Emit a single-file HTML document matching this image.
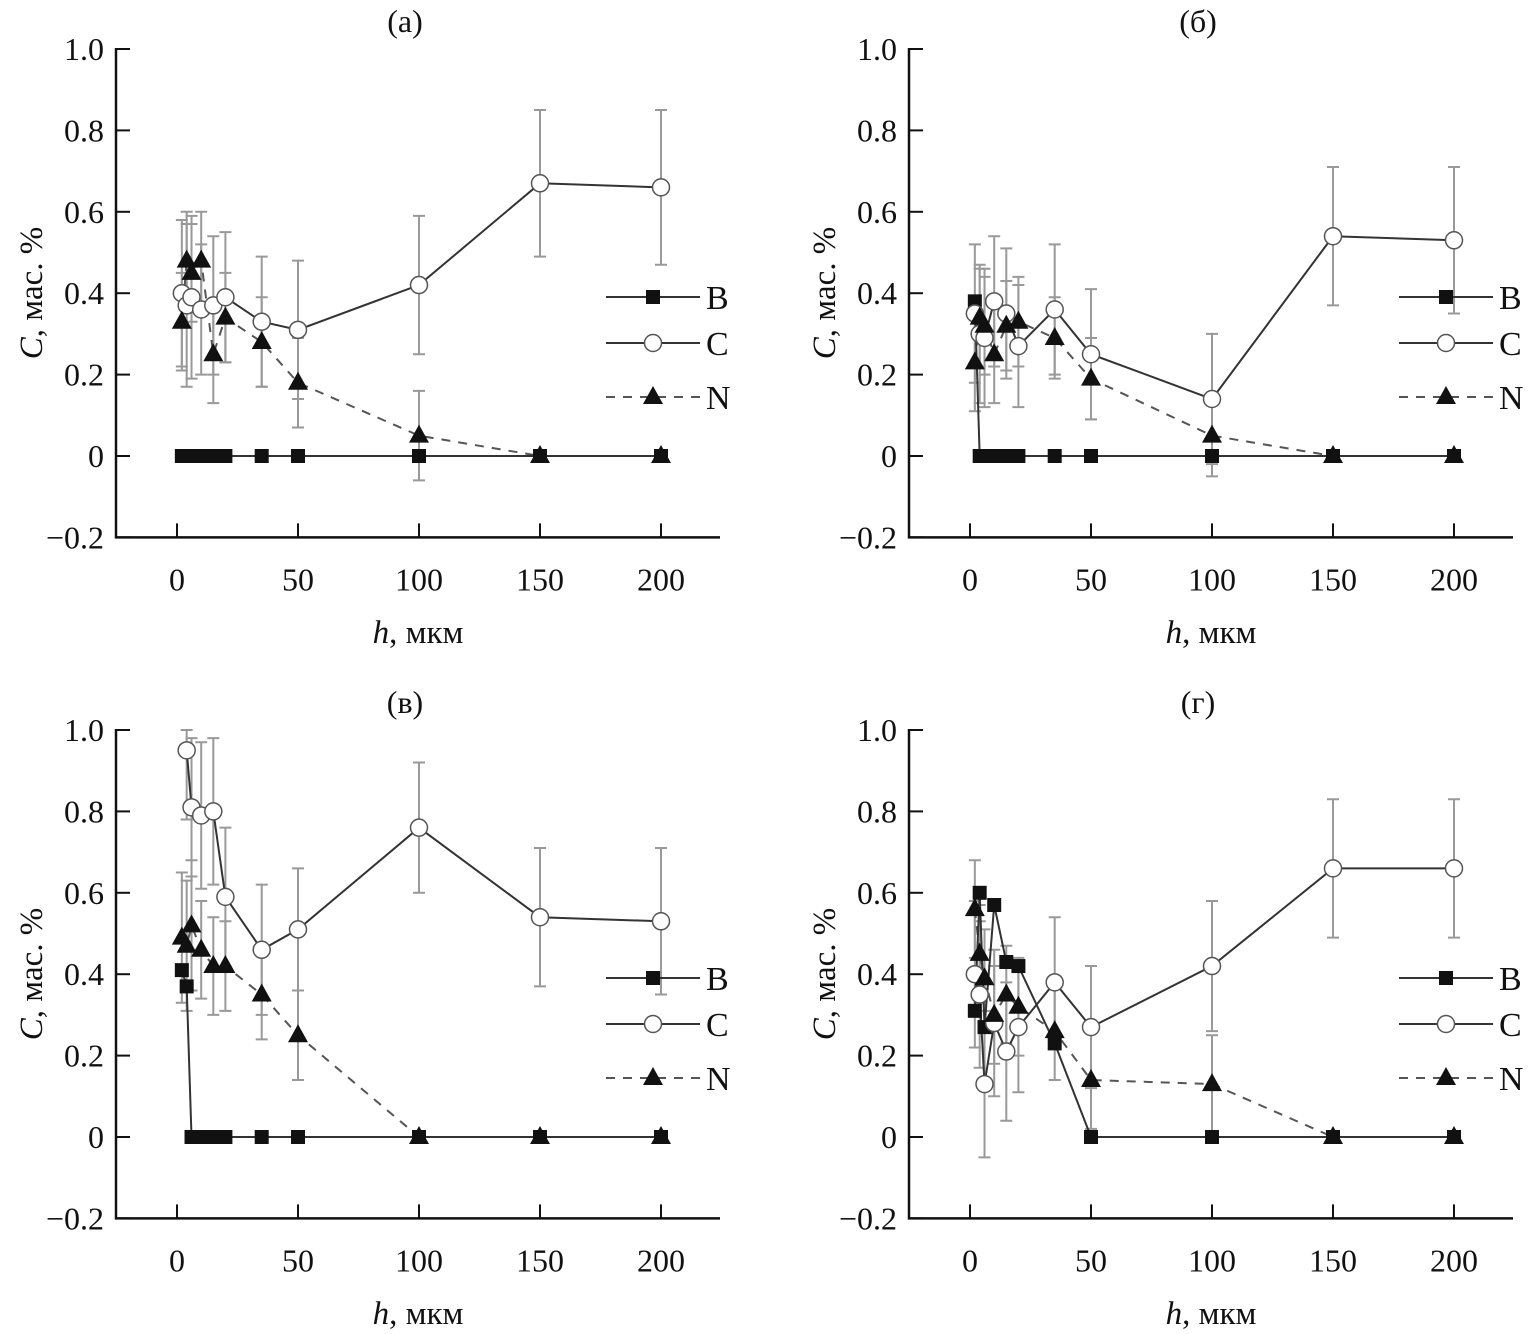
<!DOCTYPE html>
<html><head><meta charset="utf-8">
<style>
html,body{margin:0;padding:0;background:#fff;}
svg{display:block;}
text{font-family:"Liberation Serif","DejaVu Serif",serif;fill:#111;}
</style></head>
<body>
<svg id="chart" width="1533" height="1334" viewBox="0 0 1533 1334" xmlns="http://www.w3.org/2000/svg"></svg>
<script>
const hValues = [2, 4, 6, 10, 15, 20, 35, 50, 100, 150, 200];
const xTicks = [0, 50, 100, 150, 200];
const yTicks = [1.0, 0.8, 0.6, 0.4, 0.2, 0, -0.2];
const yTickLabels = ["1.0", "0.8", "0.6", "0.4", "0.2", "0", "\u22120.2"];
const panelTitles = ["(а)", "(б)", "(в)", "(г)"];

const bA = [0,0,0,0,0,0,0,0,0,0,0];
const cA = [0.40,0.37,0.39,0.36,0.37,0.39,0.33,0.31,0.42,0.67,0.66];
const cErrA = [0.18,0.20,0.20,0.16,0.17,0.16,0.16,0.17,0.17,0.18,0.19];
const nA = [0.33,0.48,0.45,0.48,0.25,0.34,0.28,0.18,0.05,0,0];
const nErrA = [0.12,0.12,0.12,0.12,0.12,0.11,0.11,0.11,0.11,0,0];

const bB = [0.38,0,0,0,0,0,0,0,0,0,0];
const cB = [0.35,0.30,0.29,0.38,0.35,0.27,0.36,0.25,0.14,0.54,0.53];
const cErrB = [0.17,0.17,0.17,0.16,0.16,0.15,0.16,0.16,0.16,0.17,0.18];
const nB = [0.23,0.34,0.32,0.25,0.32,0.33,0.29,0.19,0.05,0,0];
const nErrB = [0.12,0.12,0.12,0.12,0.11,0.11,0.10,0.10,0.10,0,0];

const bC = [0.41,0.37,0,0,0,0,0,0,0,0,0];
const cC = [null,0.95,0.81,0.79,0.80,0.59,0.46,0.51,0.76,0.54,0.53];
const cErrC = [0,0.17,0.17,0.18,0.18,0.17,0.16,0.15,0.16,0.17,0.18];
const nC = [0.49,0.47,0.52,0.46,0.42,0.42,0.35,0.25,0,0,0];
const nErrC = [0.16,0.16,0.16,0.12,0.12,0.11,0.11,0.11,0,0,0];

const bD = [0.31,0.60,0.27,0.57,0.43,0.42,0.23,0,0,0,0];
const cD = [0.40,0.35,0.13,0.28,0.21,0.27,0.38,0.27,0.42,0.66,0.66];
const cErrD = [0.18,0.18,0.18,0.18,0.17,0.16,0.16,0.15,0.16,0.17,0.17];
const nD = [0.56,0.45,0.39,0.30,0.35,0.32,0.26,0.14,0.13,0,0];
const nErrD = [0.12,0.12,0.12,0.12,0.12,0.12,0.12,0.12,0.12,0,0];

const panels = [
  {ox:0, oy:0, b:bA, c:cA, ce:cErrA, n:nA, ne:nErrA},
  {ox:793, oy:0, b:bB, c:cB, ce:cErrB, n:nB, ne:nErrB},
  {ox:0, oy:681, b:bC, c:cC, ce:cErrC, n:nC, ne:nErrC},
  {ox:793, oy:681, b:bD, c:cD, ce:cErrD, n:nD, ne:nErrD}
];

const svg = document.getElementById('chart');
const NS = 'http://www.w3.org/2000/svg';
function mk(tag, attrs, parent){
  const e = document.createElementNS(NS, tag);
  for (const k in attrs) e.setAttribute(k, attrs[k]);
  parent.appendChild(e);
  return e;
}

panels.forEach((p, pi) => {
  const g = mk('g', {}, svg);
  
  
  const X0 = 116 + p.ox, Xend = 720 + p.ox;
  const sx = v => 177 + p.ox + v * 2.42;
  const sy = v => 456 + p.oy - v * 407;
  const ax = mk('path', {d:`M${X0} ${sy(1.0)-1}V${sy(-0.2)}H${Xend}`, fill:'none', stroke:'#111', 'stroke-width':2.5}, g);
  
  
  yTicks.forEach((t, i) => {
    mk('line', {x1:X0, x2:X0+14, y1:sy(t), y2:sy(t), stroke:'#111', 'stroke-width':2}, g);
    const tx = mk('text', {x:X0-12, y:sy(t)+11, 'text-anchor':'end', 'font-size':32}, g);
    tx.textContent = yTickLabels[i];
    
    
  });
  xTicks.forEach(t => {
    mk('line', {x1:sx(t), x2:sx(t), y1:sy(-0.2), y2:sy(-0.2)-14, stroke:'#111', 'stroke-width':2}, g);
    const tx = mk('text', {x:sx(t), y:sy(-0.2)+53, 'text-anchor':'middle', 'font-size':32}, g);
    tx.textContent = t;
    
    
  });
  const title = mk('text', {x:405+p.ox, y:32+p.oy, 'text-anchor':'middle', 'font-size':32}, g);
  title.textContent = panelTitles[pi];
  
  
  const xl = mk('text', {x:418+p.ox, y:643+p.oy, 'text-anchor':'middle', 'font-size':33}, g);
  xl.innerHTML = '<tspan font-style="italic">h</tspan>, мкм';
  
  
  const yl = mk('text', {x:0, y:0, 'text-anchor':'middle', 'font-size':33, transform:`translate(${42+p.ox},${293+p.oy}) rotate(-90)`}, g);
  yl.innerHTML = '<tspan font-style="italic">C</tspan>, мас. %';
  
  

  function errs(vals, er){
    vals.forEach((v, i) => {
      if (v === null || !er[i]) return;
      const x = sx(hValues[i]);
      const top = Math.min(v+er[i], 1.0);
      const eb = mk('path', {d:`M${x} ${sy(top)}V${sy(v-er[i])}M${x-6} ${sy(top)}H${x+6}M${x-6} ${sy(v-er[i])}H${x+6}`, stroke:'#999', 'stroke-width':2, fill:'none'}, g);
      
      
    });
  }
  errs(p.c, p.ce); errs(p.n, p.ne);
  const line = (vals, dash, name) => {
    const pts = [];
    vals.forEach((v,i)=>{ if (v !== null) pts.push(sx(hValues[i])+','+sy(v)); });
    const l = mk('polyline', {points: pts.join(' '), fill:'none', stroke: dash ? '#555' : '#333', 'stroke-width':2, 'stroke-dasharray': dash ? '9 8' : 'none'}, g);
    
    
  };
  line(p.n, true, 'n-line'); line(p.b, false, 'b-line'); line(p.c, false, 'c-line');
  const sq = (x,y) => { const e = mk('rect', {x:x-7, y:y-7, width:14, height:14, fill:'#111'}, g);   };
  const ci = (x,y) => { const e = mk('circle', {cx:x, cy:y, r:8.5, fill:'#fff', stroke:'#555', 'stroke-width':1.5}, g);   };
  const tr = (x,y) => { const e = mk('path', {d:`M${x} ${y-11}L${x+10} ${y+7}H${x-10}Z`, fill:'#111'}, g);   };
  p.b.forEach((v,i)=>{ if (v!==null) sq(sx(hValues[i]), sy(v)); });
  p.c.forEach((v,i)=>{ if (v!==null) ci(sx(hValues[i]), sy(v)); });
  p.n.forEach((v,i)=>{ if (v!==null) tr(sx(hValues[i]), sy(v)); });

  const ly = [297, 343, 397];
  const lg = mk('g', {}, g);
  
  
  const L0 = 606 + p.ox, L1 = 700 + p.ox, LM = 653 + p.ox;
  ['B','C','N'].forEach((s, k) => {
    const y = ly[k] + p.oy;
    mk('line', {x1:L0, x2:L1, y1:y, y2:y, stroke: k==2 ? '#555':'#333', 'stroke-width':2, 'stroke-dasharray': k==2 ? '9 8':'none'}, lg);
    if (k==0) sq(LM, y); else if (k==1) ci(LM, y); else tr(LM, y);
    const t = mk('text', {x:706+p.ox, y:y+12, 'font-size':34}, lg);
    t.textContent = s;
    
    
  });
});
</script>
</body></html>
